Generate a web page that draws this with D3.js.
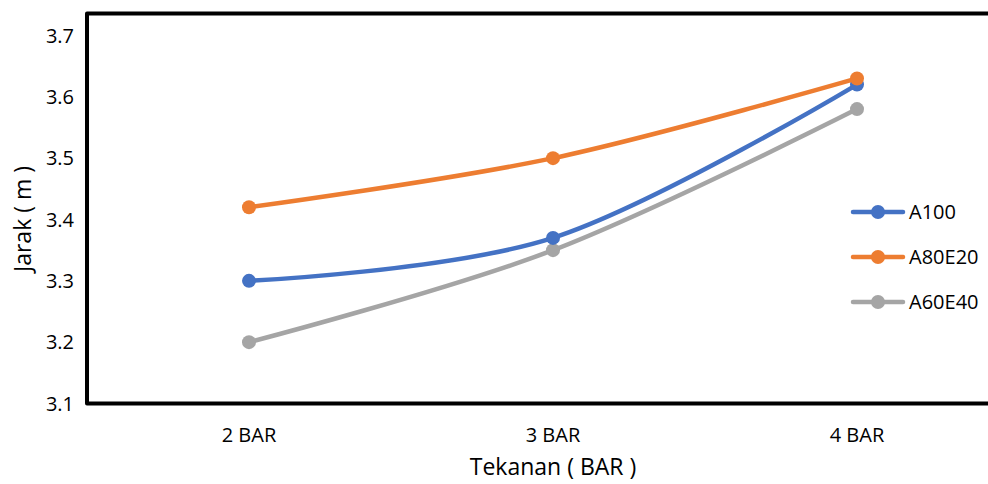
<!DOCTYPE html>
<html>
<head>
<meta charset="utf-8">
<script src="https://cdn.jsdelivr.net/npm/d3@7"></script>
<style>
    body { margin: 0; background: #fff; }
    text { font-family: "Open Sans", sans-serif; fill: #000; }
</style>
</head>
<body>
<div id="chart"></div>
<script>
// data
var categories = ["2 BAR", "3 BAR", "4 BAR"];
var seriesNames = ["A100", "A80E20", "A60E40"];
var a100 = [3.30, 3.37, 3.62];
var a80e20 = [3.42, 3.50, 3.63];
var a60e40 = [3.20, 3.35, 3.58];
var yTicks = [3.1, 3.2, 3.3, 3.4, 3.5, 3.6, 3.7];
var colors = ["#4472C4", "#ED7D31", "#A5A5A5"];

var width = 988, height = 484;
var svg = d3.select("#chart").append("svg").attr("width", width).attr("height", height);

// scales
var x_scale = d3.scalePoint().domain(categories).range([249, 857]);
var y_scale = d3.scaleLinear().domain([3.1, 3.7]).range([403.5, 35.5]);

// frame (left, top, bottom - no right side)
var frameLeft = 87, frameTop = 13.5, frameBottom = y_scale(3.1);
svg.append("path")
    .attr("d", "M" + width + "," + frameTop + "H" + frameLeft + "V" + frameBottom + "H" + width)
    .attr("fill", "none")
    .attr("stroke", "#000")
    .attr("stroke-width", 4)
    .attr("stroke-linejoin", "round");

// y tick labels
svg.append("g").selectAll("text")
    .data(yTicks)
    .enter()
    .append("text")
    .attr("x", 74)
    .attr("y", function (d) { return y_scale(d); })
    .attr("dy", "0.35em")
    .attr("text-anchor", "end")
    .style("font-size", "20px")
    .text(function (d) { return d.toFixed(1); });

// x tick labels
svg.append("g").selectAll("text")
    .data(categories)
    .enter()
    .append("text")
    .attr("x", function (d) { return x_scale(d); })
    .attr("y", 442)
    .attr("text-anchor", "middle")
    .style("font-size", "20px")
    .text(function (d) { return d; });

// axis titles
svg.append("text")
    .attr("x", 553)
    .attr("y", 475)
    .attr("text-anchor", "middle")
    .style("font-size", "23px")
    .text("Tekanan ( BAR )");
svg.append("text")
    .attr("transform", "translate(31,219)rotate(-90)")
    .attr("text-anchor", "middle")
    .style("font-size", "23px")
    .text("Jarak ( m )");

// lines
var series = [a100, a80e20, a60e40];
var line = d3.line()
    .x(function (d, i) { return x_scale(categories[i]); })
    .y(function (d) { return y_scale(d); })
    .curve(d3.curveCardinal.tension(0));

// draw A60E40 first, then A100, then A80E20 on top
var order = [2, 0, 1];
order.forEach(function (k) {
    var g = svg.append("g");
    g.append("path")
        .datum(series[k])
        .attr("d", line)
        .attr("fill", "none")
        .attr("stroke", colors[k])
        .attr("stroke-width", 4.5)
        .attr("stroke-linecap", "round");
    g.selectAll("circle")
        .data(series[k])
        .enter()
        .append("circle")
        .attr("cx", function (d, i) { return x_scale(categories[i]); })
        .attr("cy", function (d) { return y_scale(d); })
        .attr("r", 7)
        .attr("fill", colors[k]);
});

// legend
var legendY = [212, 257, 302];
var legend = svg.append("g").selectAll("g")
    .data(seriesNames)
    .enter()
    .append("g")
    .attr("transform", function (d, i) { return "translate(0," + legendY[i] + ")"; });
legend.append("line")
    .attr("x1", 853).attr("x2", 903)
    .attr("stroke", function (d, i) { return colors[i]; })
    .attr("stroke-width", 4.5)
    .attr("stroke-linecap", "round");
legend.append("circle")
    .attr("cx", 878)
    .attr("r", 7)
    .attr("fill", function (d, i) { return colors[i]; });
legend.append("text")
    .attr("x", 909)
    .attr("dy", "0.35em")
    .style("font-size", "20px")
    .text(function (d) { return d; });
</script>
</body>
</html>
